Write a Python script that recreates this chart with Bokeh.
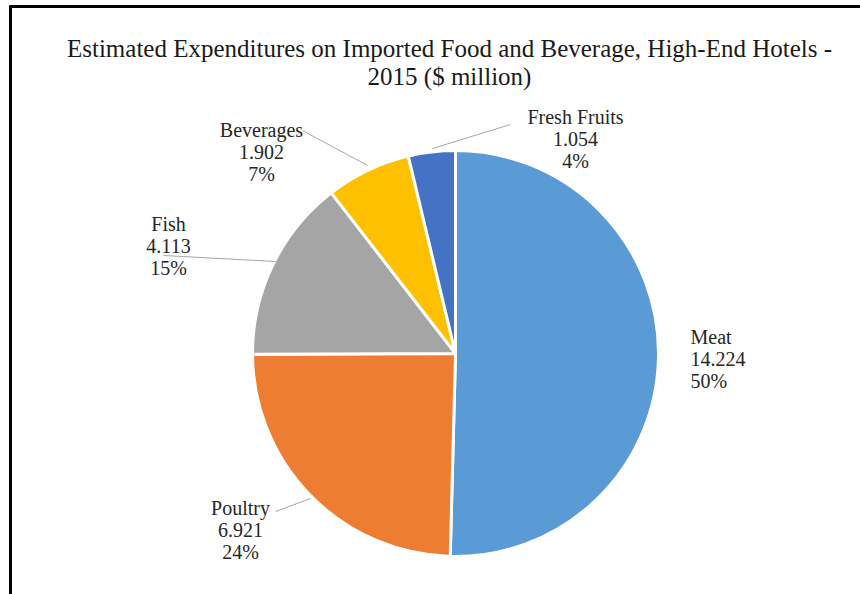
import math
from bokeh.plotting import figure
from bokeh.models import Range1d, ColumnDataSource
from bokeh.core.properties import value
from bokeh.embed import file_html
from bokeh.resources import INLINE

# ---- data ----
categories = ["Meat", "Poultry", "Fish", "Beverages", "Fresh Fruits"]
values = [14.224, 6.921, 4.113, 1.902, 1.054]
percents = [50, 24, 15, 7, 4]
colors = ["#5B9BD5", "#ED7D31", "#A5A5A5", "#FFC000", "#4472C4"]
title_lines = ["Estimated Expenditures on Imported Food and Beverage, High-End Hotels -",
               "2015 ($ million)"]

FONT = "'Liberation Serif', 'Times New Roman', serif"

W, H = 860, 594
p = figure(width=W, height=H, output_backend="svg", toolbar_location=None,
           x_range=Range1d(0, W), y_range=Range1d(0, H), min_border=0)
p.axis.visible = False
p.grid.visible = False
p.outline_line_color = None
p.background_fill_color = "white"
p.border_fill_color = "white"

def Y(y):
    return H - y

# pie geometry (layout)
cx, cy, r = 455, Y(353), 203
total = sum(values)
starts, ends = [], []
cum = 0.0
for v in values:
    starts.append(math.pi / 2 - 2 * math.pi * cum / total)
    cum += v
    ends.append(math.pi / 2 - 2 * math.pi * cum / total)

src = ColumnDataSource(dict(start=starts, end=ends, color=colors))
p.wedge(x=cx, y=cy, radius=r, start_angle="start", end_angle="end",
        direction="clock", fill_color="color", line_color="white", line_width=3,
        source=src)

# leader lines (layout)
leaders = {
    "Beverages": [(302, 130), (367, 165)],
    "Fresh Fruits": [(510, 124), (432, 148)],
    "Fish": [(163, 255), (275, 261)],
    "Poultry": [(275, 511), (310, 498)],
}
for pts in leaders.values():
    p.line([a for a, b in pts], [Y(b) for a, b in pts], line_color="#A6A6A6", line_width=1)

# label positions (layout): x, top-y, align
label_pos = {
    "Meat": (690, 325, "left"),
    "Poultry": (240, 496, "center"),
    "Fish": (168, 212, "center"),
    "Beverages": (261, 118, "center"),
    "Fresh Fruits": (575, 105, "center"),
}
for name, val, pct in zip(categories, values, percents):
    x, yt, al = label_pos[name]
    p.text(x=[x], y=[Y(yt)], text=[f"{name}\n{val:.3f}\n{pct}%"],
           text_font=value(FONT), text_font_size="20px",
           text_color="#262626", text_align=al, text_baseline="top",
           text_line_height=1.0)

# title
p.text(x=[449], y=[Y(34)], text=["\n".join(title_lines)],
       text_font=value(FONT), text_font_size="25px",
       text_color="#1a1a1a", text_align="center", text_baseline="top",
       text_line_height=1.04)

# frame lines
p.line([9, W], [Y(6), Y(6)], line_color="black", line_width=3)
p.line([10, 10], [Y(5), 0], line_color="black", line_width=3)

open("out.html", "w").write(file_html(p, INLINE))
